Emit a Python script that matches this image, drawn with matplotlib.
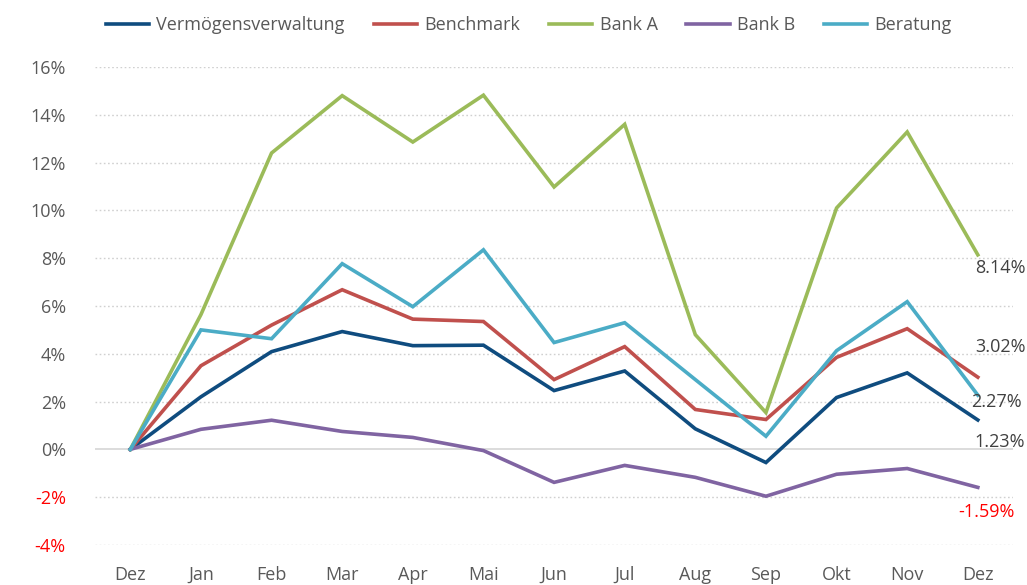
import matplotlib
matplotlib.use("Agg")
import matplotlib.pyplot as plt

months = ["Dez", "Jan", "Feb", "Mar", "Apr", "Mai", "Jun", "Jul", "Aug", "Sep", "Okt", "Nov", "Dez"]

verm = [0, 2.2, 4.09, 4.93, 4.34, 4.36, 2.46, 3.28, 0.86, -0.55, 2.17, 3.2, 1.23]
bench = [0, 3.5, 5.2, 6.68, 5.45, 5.35, 2.92, 4.3, 1.67, 1.25, 3.85, 5.05, 3.02]
bank_a = [0, 5.64, 12.4, 14.8, 12.86, 14.82, 10.98, 13.6, 4.8, 1.54, 10.1, 13.28, 8.14]
bank_b = [0, 0.84, 1.22, 0.75, 0.5, -0.05, -1.38, -0.67, -1.17, -1.96, -1.04, -0.8, -1.59]
beratung = [0, 5.0, 4.63, 7.77, 5.97, 8.35, 4.47, 5.3, 2.92, 0.55, 4.13, 6.18, 2.27]

yticks = [-4, -2, 0, 2, 4, 6, 8, 10, 12, 14, 16]

plt.rcParams['font.family'] = ['Open Sans', 'DejaVu Sans']
grey = "#595959"

fig = plt.figure(figsize=(10.27, 5.85), dpi=100)
ax = fig.add_axes([0.0925, 0.0684, 0.894, 0.8171])

x = list(range(len(months)))
series = [
    ("Vermögensverwaltung", verm, "#0f4c7f"),
    ("Benchmark", bench, "#c0504d"),
    ("Bank A", bank_a, "#9bbb59"),
    ("Bank B", bank_b, "#8064a2"),
    ("Beratung", beratung, "#4bacc6"),
]
for name, vals, col in series:
    ax.plot(x, vals, color=col, lw=2.6, label=name, solid_joinstyle="miter", zorder=3)

# gridlines
for t in yticks:
    if t == 0:
        ax.axhline(0, color="#d9d9d9", lw=1.3, zorder=1)
    else:
        ax.axhline(t, color="#d0d0d0", lw=1.0, ls=(0, (1.2, 1.8)), zorder=1)

ax.set_xlim(-0.5, len(months) - 0.5)
ax.set_ylim(-4, 16)
ax.set_yticks(yticks)
ax.set_yticklabels([f"{t}%" for t in yticks])
ax.set_xticks(x)
ax.set_xticklabels(months)
ax.tick_params(axis="both", length=0, labelsize=13, colors=grey)
ax.tick_params(axis="y", pad=21)
ax.tick_params(axis="x", pad=15)
for lbl, t in zip(ax.get_yticklabels(), yticks):
    if t < 0:
        lbl.set_color("red")
for s in ax.spines.values():
    s.set_visible(False)

# end labels
end_labels = [
    (bank_a[-1], -3, -13, "#404040"),
    (bench[-1], -3, 30, "#404040"),
    (beratung[-1], -7, -7, "#404040"),
    (verm[-1], -3, -22, "#404040"),
    (bank_b[-1], -20, -25, "red"),
]
for v, dx, dy, col in end_labels:
    ax.annotate(f"{v:.2f}%", xy=(x[-1], v), xytext=(dx, dy), textcoords="offset pixels",
                ha="left", va="center", fontsize=13, color=col, annotation_clip=False)

fig.legend(loc="upper center", bbox_to_anchor=(0.515, 1.0), ncol=5, frameon=False,
           fontsize=13, labelcolor=grey, handlelength=2.4, columnspacing=1.6,
           handletextpad=0.4)

fig.savefig("out.png", dpi=100)
